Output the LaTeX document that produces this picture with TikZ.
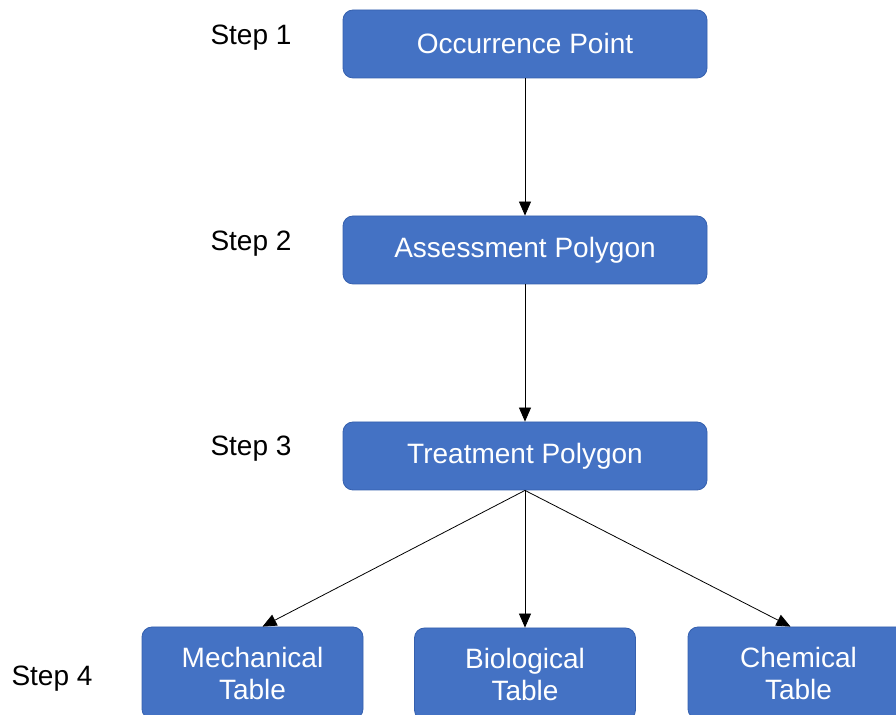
\documentclass[tikz,border=0pt]{standalone}
\usepackage{fontspec}
\setmainfont{Liberation Sans}
\usetikzlibrary{arrows.meta,positioning}
\definecolor{boxblue}{HTML}{4472C4}
\definecolor{boxedge}{HTML}{3560AE}

\begin{document}
\begin{tikzpicture}[
  x=0.5pt, y=-0.5pt,
  every node/.style={font=\fontsize{14}{16}\selectfont, inner sep=1pt},
  stepbox/.style={rectangle, rounded corners=5pt, draw=boxedge, fill=boxblue, text=white,
                  minimum width=182pt, minimum height=34pt},
  tablebox/.style={stepbox, align=center, minimum width=110.5pt, minimum height=46pt},
  steplabel/.style={text=black},
  flow/.style={draw, -{Triangle[length=7pt,width=6pt]}, thin}
]
\useasboundingbox (0,0) rectangle (896,715);
\clip (0,0) rectangle (896,715);

\node[stepbox] (occ) at (525,44) {Occurrence Point};
\node[stepbox] (assess) at (525,250) {Assessment Polygon};
\node[stepbox] (treat) at (525,456) {Treatment Polygon};

\node[tablebox] (mech) at (252.5,673) {Mechanical\\Table};
\node[tablebox] (bio) at (525,674) {Biological\\Table};
\node[tablebox] (chem) at (798.5,673) {Chemical\\Table};

\node[steplabel] (s1) at (251,38) {Step 1};
\node[steplabel] (s2) at (251,244) {Step 2};
\node[steplabel] (s3) at (251,449) {Step 3};
\node[steplabel] (s4) at (52,679) {Step 4};

\draw[flow] (occ) -- (assess);
\draw[flow] (assess) -- (treat);
\draw[flow] (treat.south) -- ([xshift=5pt]mech.north);
\draw[flow] (treat.south) -- (bio.north);
\draw[flow] (treat.south) -- ([xshift=-4pt]chem.north);

\end{tikzpicture}
\end{document}
